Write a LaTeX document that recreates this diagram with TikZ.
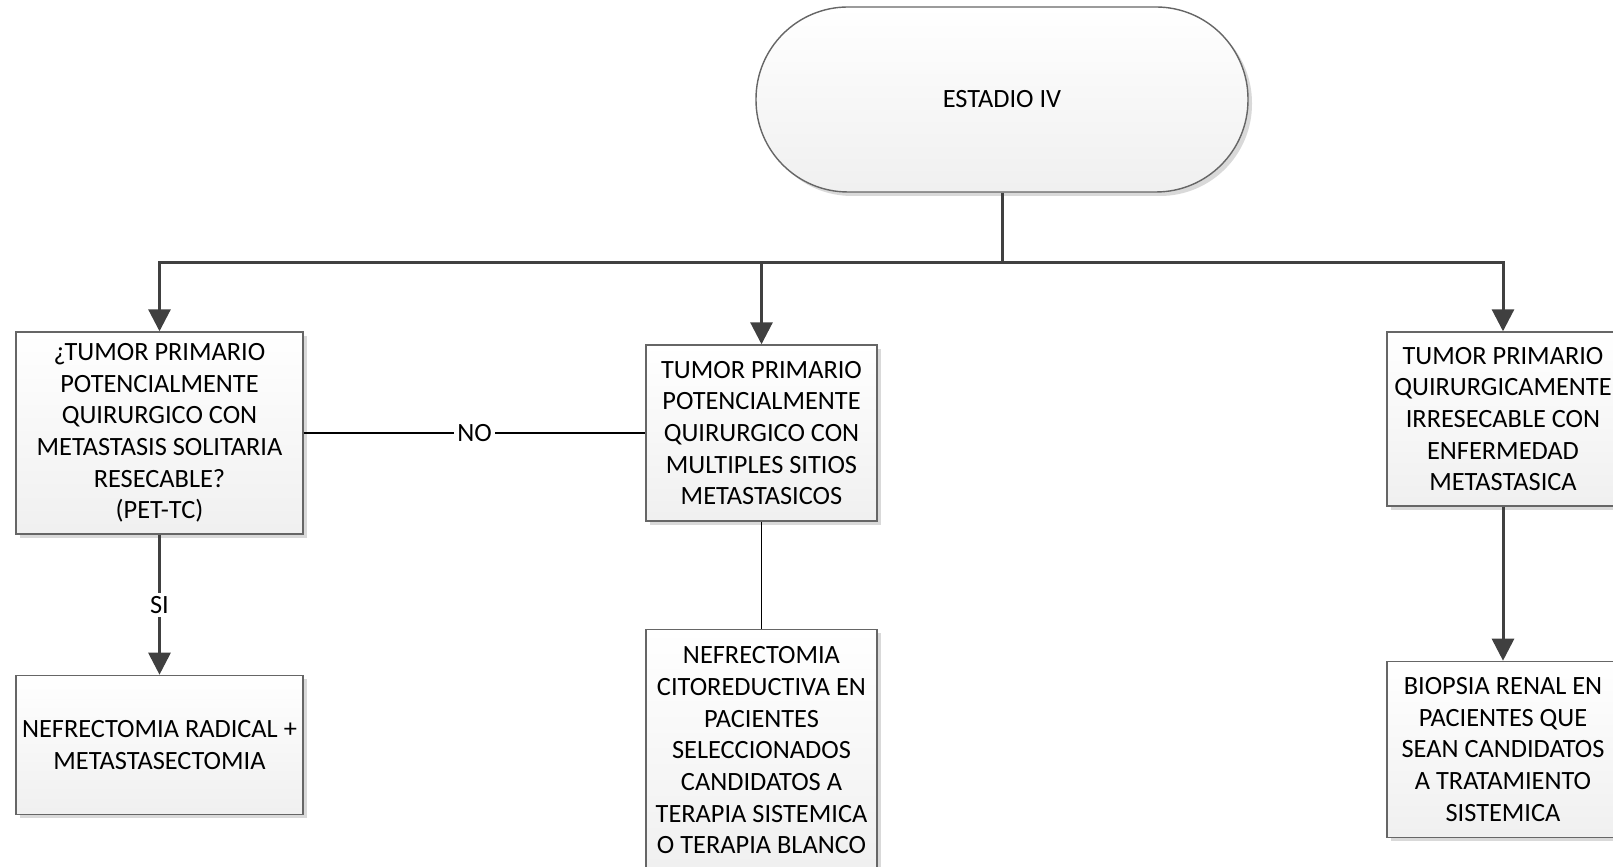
\documentclass[tikz,border=0pt]{standalone}
\usepackage{fontspec}
\setmainfont{Carlito}
\usetikzlibrary{arrows.meta, positioning, calc, shadows}

\begin{document}
\begin{tikzpicture}[
        box/.style={draw=black!60, line width=0.4pt, top color=white, bottom color=black!6, align=center, inner sep=1pt, font=\fontsize{7.5}{9}\selectfont, drop shadow={shadow xshift=0.04cm, shadow yshift=-0.04cm, fill=black!15, opacity=1}},
        arrow/.style={-{Triangle[length=0.22cm, width=0.22cm]}, line width=0.85pt, draw=black!75},
        stem/.style={line width=0.85pt, draw=black!75},
        thinline/.style={line width=0.3pt, draw=black},
        lbl/.style={fill=white, inner sep=1pt, font=\fontsize{7.5}{9}\selectfont}
    ]
        \useasboundingbox (0,0) rectangle (16.13,-8.67);

        \node[box, rounded corners=0.92cm, minimum width=4.92cm, minimum height=1.85cm] (estadio) at (10.02,-0.995) {ESTADIO IV};

        % fila de decisiones
        \node[box, minimum width=2.87cm, minimum height=2.02cm] (pregunta) at (1.595,-4.33) {¿TUMOR PRIMARIO\\POTENCIALMENTE\\QUIRURGICO CON\\METASTASIS SOLITARIA\\RESECABLE?\\(PET-TC)};
        \node[box, minimum width=2.31cm, minimum height=1.76cm] (multiples) at (7.615,-4.33) {TUMOR PRIMARIO\\POTENCIALMENTE\\QUIRURGICO CON\\MULTIPLES SITIOS\\METASTASICOS};
        \node[box, minimum width=2.32cm, minimum height=1.74cm] (irresecable) at (15.03,-4.19) {TUMOR PRIMARIO\\QUIRURGICAMENTE\\IRRESECABLE CON\\ENFERMEDAD\\METASTASICA};

        % tratamientos
        \node[box, minimum width=2.87cm, minimum height=1.39cm, below=1.4cm of pregunta] (radical) {NEFRECTOMIA RADICAL +\\METASTASECTOMIA};
        \node[box, minimum width=2.31cm, minimum height=2.42cm, below=1.07cm of multiples] (citoreductiva) {NEFRECTOMIA\\CITOREDUCTIVA EN\\PACIENTES\\SELECCIONADOS\\CANDIDATOS A\\TERAPIA SISTEMICA\\O TERAPIA BLANCO};
        \node[box, minimum width=2.32cm, minimum height=1.76cm, below=1.54cm of irresecable] (biopsia) {BIOPSIA RENAL EN\\PACIENTES QUE\\SEAN CANDIDATOS\\A TRATAMIENTO\\SISTEMICA};

        \coordinate (bus) at ($(estadio.south)+(0,-0.70)$);
        \draw[stem] (estadio.south) -- (bus);
        \draw[arrow] (bus) -| (pregunta.north);
        \draw[arrow] (bus) -| (multiples.north);
        \draw[arrow] (bus) -| (irresecable.north);

        \draw[thinline] (pregunta.east) -- node[lbl] {NO} (multiples.west);
        \draw[arrow] (pregunta) -- node[lbl] {SI} (radical);
        \draw[thinline] (multiples) -- (citoreductiva);
        \draw[arrow] (irresecable) -- (biopsia);
\end{tikzpicture}
\end{document}
